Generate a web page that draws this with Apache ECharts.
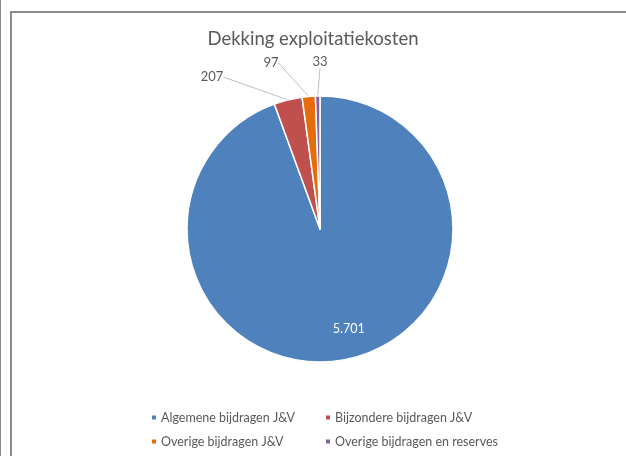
<!DOCTYPE html>
<html>
<head>
<meta charset="utf-8">
<script src="https://cdn.jsdelivr.net/npm/echarts@6/dist/echarts.min.js"></script>
<style>
html,body{margin:0;padding:0;background:#fff;}
#chart{position:absolute;left:0;top:0;width:626px;height:456px;}
#b1{position:absolute;left:0;top:0;width:1px;height:456px;background:#8c8c8c;}
#b2{position:absolute;left:10px;top:11px;width:616px;height:445px;border-left:2px solid #8c8c8c;border-top:2px solid #8c8c8c;box-sizing:border-box;}
</style>
</head>
<body>
<div id="chart"></div>
<div id="b1"></div>
<div id="b2"></div>
<script>
const title = 'Dekking exploitatiekosten';
const categories = ['Algemene bijdragen J&V', 'Bijzondere bijdragen J&V', 'Overige bijdragen J&V', 'Overige bijdragen en reserves'];
const values = [5701, 207, 97, 33];
const labels = ['5.701', '207', '97', '33'];
const colors = ['#4F81BD', '#C0504D', '#E46C0A', '#8064A2'];

const CX = 320, CY = 229, R = 133;
const outsidePos = {1: [212, 77], 2: [271, 63], 3: [320, 62]};

const legendText = {fontFamily: 'Lato', fontSize: 12.5, color: '#595959', padding: [0, 0, 0, -1]};
const chart = echarts.init(document.getElementById('chart'));
chart.setOption({
  animation: false,
  title: {
    text: title, left: 'center', top: 25,
    textStyle: {fontFamily: 'Lato', fontSize: 18.5, fontWeight: 'normal', color: '#595959'}
  },
  legend: [
    {data: [categories[0], categories[2]], orient: 'vertical', left: 150, top: 411, itemGap: 11,
     padding: 0, itemWidth: 6, itemHeight: 6, icon: 'rect', textStyle: legendText},
    {data: [categories[1], categories[3]], orient: 'vertical', left: 324, top: 411, itemGap: 11,
     padding: 0, itemWidth: 6, itemHeight: 6, icon: 'rect', textStyle: legendText}
  ],
  series: [{
    type: 'pie',
    center: [CX, CY],
    radius: R,
    startAngle: 90,
    clockwise: true,
    avoidLabelOverlap: false,
    itemStyle: {borderColor: '#fff', borderWidth: 1.5},
    label: {
      show: true, position: 'outside',
      fontFamily: 'Lato', fontSize: 13, color: '#595959',
      formatter: p => labels[p.dataIndex]
    },
    labelLine: {show: true, length: 10, length2: 0, lineStyle: {color: '#bfbfbf', width: 1}},
    labelLayout: function (p) {
      if (p.dataIndex === 0) {
        const lx = p.labelRect.x + p.labelRect.width / 2;
        const ly = p.labelRect.y + p.labelRect.height / 2;
        return {dx: (lx - CX) * 0.55 + 10, dy: (ly - CY) * 0.55 - 6};
      }
      const pos = outsidePos[p.dataIndex];
      return {x: pos[0], y: pos[1], align: 'center', verticalAlign: 'middle'};
    },
    data: categories.map((c, i) => ({
      name: c, value: values[i], itemStyle: {color: colors[i]},
      label: i === 0 ? {position: 'inside', color: '#ffffff', fontSize: 12.5} : undefined,
      labelLine: i === 0 ? {show: false} : undefined
    }))
  }]
});
</script>
</body>
</html>
